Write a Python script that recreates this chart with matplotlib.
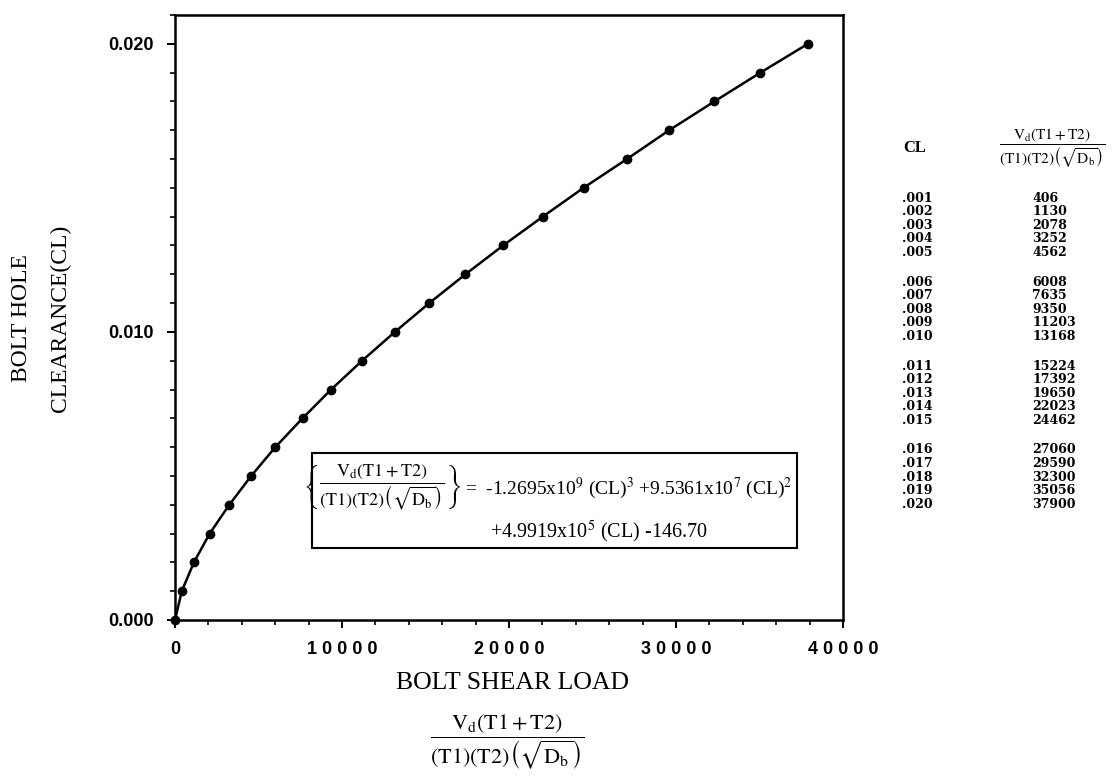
"""Bolt hole clearance vs. bolt shear load chart."""
import matplotlib
matplotlib.use("Agg")
import matplotlib.pyplot as plt
from matplotlib.patches import Rectangle
from matplotlib.ticker import MultipleLocator

# plotted points (origin + table rows)
CL = [0.000, 0.001, 0.002, 0.003, 0.004, 0.005, 0.006, 0.007, 0.008, 0.009,
      0.010, 0.011, 0.012, 0.013, 0.014, 0.015, 0.016, 0.017, 0.018, 0.019,
      0.020]
LOAD = [0, 406, 1130, 2078, 3252, 4562, 6008, 7635, 9350, 11203, 13168,
        15224, 17392, 19650, 22023, 24462, 27060, 29590, 32300, 35056, 37900]

X_TICKS = [0, 10000, 20000, 30000, 40000]
X_TICK_LABELS = ["0", "1 0 0 0 0", "2 0 0 0 0", "3 0 0 0 0", "4 0 0 0 0"]
Y_TICKS = [0.000, 0.010, 0.020]
Y_TICK_LABELS = ["0.000", "0.010", "0.020"]

FRAC = (r"$\dfrac{\mathrm{V_d(T1+T2)}}"
        r"{\mathrm{(T1)(T2)}\left(\sqrt{\mathrm{D_b}}\right)}$")

W, H = 1119, 779
SERIF = "Liberation Serif"
SANS = "Liberation Sans"


def fx(px):
    return px / W


def fy(py):
    return 1 - py / H


def main():
    plt.rcParams["mathtext.fontset"] = "stix"
    fig = plt.figure(figsize=(W / 100, H / 100), dpi=100)
    ax = fig.add_axes([fx(175), fy(620), (843 - 175) / W, (620 - 15) / H])

    ax.plot(LOAD, CL, color="black", lw=1.8, marker="o", ms=6,
            clip_on=False, zorder=3)
    ax.set_xlim(0, 40000)
    ax.set_ylim(0, 0.0210)

    ax.set_xticks(X_TICKS)
    ax.set_xticklabels(X_TICK_LABELS)
    ax.set_yticks(Y_TICKS)
    ax.set_yticklabels(Y_TICK_LABELS)
    ax.xaxis.set_minor_locator(MultipleLocator(2000))
    ax.yaxis.set_minor_locator(MultipleLocator(0.001))
    ax.tick_params(which="major", direction="out", length=6, width=1.4,
                   pad=9, labelsize=13)
    ax.tick_params(which="minor", direction="out", length=3.5, width=1.2)
    for lab in ax.get_xticklabels() + ax.get_yticklabels():
        lab.set_fontfamily(SANS)
        lab.set_fontweight("bold")
    for sp in ax.spines.values():
        sp.set_linewidth(1.8)

    # y label (two lines)
    fig.text(fx(22), fy(318), "BOLT HOLE", rotation=90, ha="center",
             va="center", family=SERIF, fontsize=17)
    fig.text(fx(60), fy(318), "CLEARANCE(CL)", rotation=90, ha="center",
             va="center", family=SERIF, fontsize=17)

    # x label + fraction
    fig.text(fx(513), fy(683), "BOLT SHEAR LOAD", ha="center", va="center",
             family=SERIF, fontsize=18.5)
    fig.text(fx(507), fy(742), FRAC, ha="center", va="center", fontsize=16)

    # formula box
    fig.patches.append(Rectangle((fx(312), fy(548)), (797 - 312) / W,
                                 (548 - 453) / H, transform=fig.transFigure,
                                 fill=False, lw=1.5, color="black"))
    fig.text(fx(382), fy(487),
             r"$\left\{" + FRAC[1:-1] + r"\right\}$",
             ha="center", va="center", fontsize=13)
    fig.text(fx(465), fy(488),
             r"=  -1.2695x10$^{9}$ (CL)$^{3}$ +9.5361x10$^{7}$ (CL)$^{2}$",
             ha="left", va="center", family=SERIF, fontsize=14)
    fig.text(fx(490), fy(532), r"+4.9919x10$^{5}$ (CL) -146.70",
             ha="left", va="center", family=SERIF, fontsize=14.5)

    # data table on the right
    fig.text(fx(915), fy(148), "CL", ha="center", va="center", family=SERIF,
             fontsize=12, fontweight="bold")
    fig.text(fx(1052), fy(148), FRAC, ha="center", va="center", fontsize=11)
    for i, (c, v) in enumerate(zip(CL[1:], LOAD[1:])):
        y = 198 + i * 13.6 + (i // 5) * 16
        fig.text(fx(902), fy(y), f"{c:.3f}"[1:], ha="left", va="center",
                 family="DejaVu Serif", fontsize=9, fontweight="bold")
        fig.text(fx(1032), fy(y), str(v), ha="left", va="center",
                 family="DejaVu Serif", fontsize=9, fontweight="bold")

    fig.savefig("out.png", dpi=100)


if __name__ == "__main__":
    main()
